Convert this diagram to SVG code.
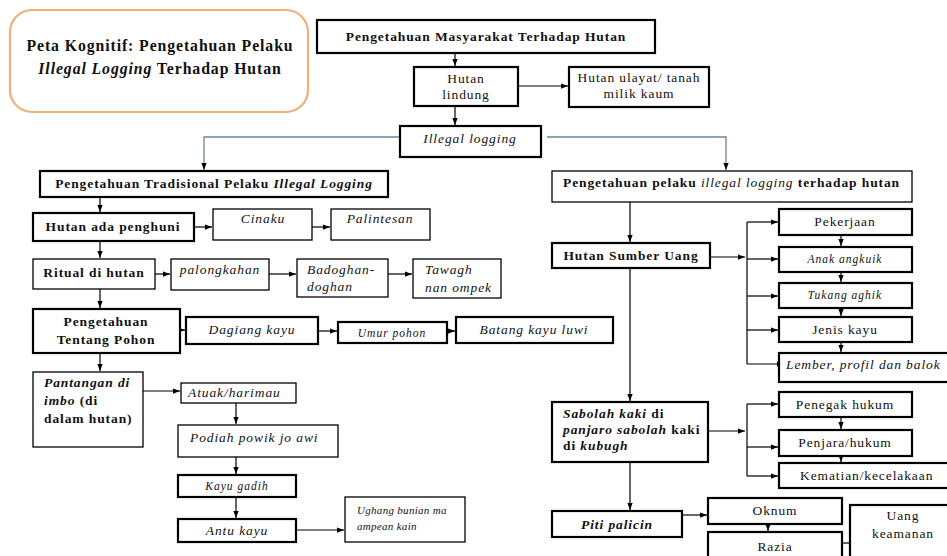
<svg xmlns="http://www.w3.org/2000/svg" width="947" height="556" viewBox="0 0 947 556">
<defs>
<style>
.b{fill:#fff;stroke:#000;stroke-width:2.2}
.t{fill:#fff;stroke:#000;stroke-width:1.3}
text{font-family:"Liberation Serif","Times New Roman",serif;font-size:13.5px;letter-spacing:0.9px;fill:#111}
.bd{font-weight:bold}
.it{font-style:italic}
.sm{font-size:11.5px;letter-spacing:1px}
.xs{font-size:11px;letter-spacing:0.3px}
.m{text-anchor:middle}
.c{stroke:#000;stroke-width:1.2;fill:none}
.g{stroke:#6a8596;stroke-width:1.3;fill:none}
</style>
<marker id="a" viewBox="0 0 8 8" refX="8" refY="4" markerWidth="7" markerHeight="7" markerUnits="userSpaceOnUse" orient="auto"><path d="M0,1 L8,4 L0,7 z" fill="#000"/></marker>
</defs>
<rect width="947" height="556" fill="#fff"/>

<g id="connectors">
<path class="c" d="M455,53 V66" marker-end="url(#a)"/>
<path class="c" d="M518,86 H568" marker-end="url(#a)"/>
<path class="c" d="M455,106 V125" marker-end="url(#a)"/>
<path class="g" d="M400,137 H204 V170" marker-end="url(#a)"/>
<path class="g" d="M547,137 H726 V170" marker-end="url(#a)"/>
<path class="c" d="M100,197 V212" marker-end="url(#a)"/>
<path class="c" d="M194,227 H212" marker-end="url(#a)"/>
<path class="c" d="M312,227 H330" marker-end="url(#a)"/>
<path class="c" d="M100,241 V258" marker-end="url(#a)"/>
<path class="c" d="M155,274 H170" marker-end="url(#a)"/>
<path class="c" d="M269,274 H296" marker-end="url(#a)"/>
<path class="c" d="M388,274 H412" marker-end="url(#a)"/>
<path class="c" d="M100,289 V308" marker-end="url(#a)"/>
<path class="c" d="M180,330 H185" marker-end="url(#a)"/>
<path class="c" d="M318,331 H337" marker-end="url(#a)"/>
<path class="c" d="M447,331 H455" marker-end="url(#a)"/>
<path class="c" d="M100,353 V371" marker-end="url(#a)"/>
<path class="c" d="M143,391 H180" marker-end="url(#a)"/>
<path class="c" d="M236,403 V424" marker-end="url(#a)"/>
<path class="c" d="M236,457 V474" marker-end="url(#a)"/>
<path class="c" d="M236,497 V518" marker-end="url(#a)"/>
<path class="c" d="M296,530 H344" marker-end="url(#a)"/>
<path class="c" d="M630,202 V242" marker-end="url(#a)"/>
<path class="c" d="M710,257 H745" marker-end="url(#a)"/>
<path class="c" d="M747,222 V364"/>
<path class="c" d="M747,222 H778" marker-end="url(#a)"/>
<path class="c" d="M747,259 H778" marker-end="url(#a)"/>
<path class="c" d="M747,296 H778" marker-end="url(#a)"/>
<path class="c" d="M747,330 H778" marker-end="url(#a)"/>
<path class="c" d="M747,364 H784" marker-end="url(#a)"/>
<path class="c" d="M841,235 V246" marker-end="url(#a)"/>
<path class="c" d="M841,272 V282" marker-end="url(#a)"/>
<path class="c" d="M841,308 V316" marker-end="url(#a)"/>
<path class="c" d="M841,342 V352" marker-end="url(#a)"/>
<path class="c" d="M630,268 V401" marker-end="url(#a)"/>
<path class="c" d="M708,431 H745" marker-end="url(#a)"/>
<path class="c" d="M747,404 V476"/>
<path class="c" d="M747,404 H778" marker-end="url(#a)"/>
<path class="c" d="M747,447 H778" marker-end="url(#a)"/>
<path class="c" d="M747,476 H778" marker-end="url(#a)"/>
<path class="c" d="M841,417 V429" marker-end="url(#a)"/>
<path class="c" d="M841,456 V462" marker-end="url(#a)"/>
<path class="c" d="M630,462 V510" marker-end="url(#a)"/>
<path class="c" d="M682,515 H707" marker-end="url(#a)"/>
<path class="c" d="M768,524 V531" marker-end="url(#a)"/>
<path class="c" d="M842,543 H859" marker-end="url(#a)"/>
</g>

<g id="title">
<rect x="10" y="10" width="298" height="102" rx="22" fill="#fff" stroke="#efb07a" stroke-width="2.2"/>
<text class="bd m" x="160" y="51" style="font-size:15.8px;letter-spacing:0.9px">Peta Kognitif: Pengetahuan Pelaku</text>
<text class="bd m" x="160" y="74" style="font-size:15.8px;letter-spacing:0.9px"><tspan class="it">Illegal Logging</tspan> Terhadap Hutan</text>
</g>

<g id="n_masyarakat"><rect class="b" x="317" y="20" width="338" height="33"/><text class="bd m" x="486" y="41">Pengetahuan Masyarakat Terhadap Hutan</text></g>
<g id="n_lindung"><rect class="b" x="414" y="67" width="104" height="39"/><text class="m" x="466" y="83">Hutan</text><text class="m" x="466" y="99">lindung</text></g>
<g id="n_ulayat"><rect class="b" x="569" y="67" width="140" height="40"/><text class="m" x="639" y="82">Hutan ulayat/ tanah</text><text class="m" x="639" y="98">milik kaum</text></g>
<g id="n_illegal"><rect class="b" x="400" y="126" width="141" height="31"/><text class="it m" x="470" y="143">Illegal logging</text></g>
<g id="n_tradisional"><rect class="b" x="40" y="171" width="348" height="26"/><text class="bd m" x="214" y="188">Pengetahuan Tradisional Pelaku <tspan class="it">Illegal  Logging</tspan></text></g>
<g id="n_pelaku"><rect class="t" x="552" y="171" width="360" height="31"/><text class="bd" x="563" y="187">Pengetahuan pelaku <tspan class="it" font-weight="normal">illegal logging</tspan> terhadap hutan</text></g>

<g id="n_penghuni"><rect class="b" x="33" y="213" width="161" height="28"/><text class="bd m" x="113" y="231">Hutan ada penghuni</text></g>
<g id="n_cinaku"><rect class="t" x="213" y="209" width="99" height="31"/><text class="it m" x="263" y="223">Cinaku</text></g>
<g id="n_palintesan"><rect class="t" x="331" y="209" width="99" height="31"/><text class="it m" x="380" y="223">Palintesan</text></g>
<g id="n_ritual"><rect class="t" x="33" y="259" width="122" height="30"/><text class="bd m" x="94" y="277">Ritual di hutan</text></g>
<g id="n_palongkahan"><rect class="t" x="171" y="259" width="98" height="31"/><text class="it m" x="220" y="274">palongkahan</text></g>
<g id="n_badoghan"><rect class="t" x="297" y="259" width="91" height="38"/><text class="it" x="307" y="274">Badoghan-</text><text class="it" x="307" y="291">doghan</text></g>
<g id="n_tawagh"><rect class="t" x="413" y="259" width="88" height="39"/><text class="it" x="425" y="274">Tawagh</text><text class="it" x="425" y="292">nan ompek</text></g>
<g id="n_pohon"><rect class="b" x="33" y="309" width="147" height="44"/><text class="bd m" x="106" y="326">Pengetahuan</text><text class="bd m" x="106" y="344">Tentang Pohon</text></g>
<g id="n_dagiang"><rect class="b" x="186" y="317" width="132" height="27"/><text class="it m" x="252" y="334">Dagiang kayu</text></g>
<g id="n_umur"><rect class="b" x="338" y="322" width="109" height="21"/><text class="it sm m" x="392" y="337">Umur pohon</text></g>
<g id="n_batang"><rect class="b" x="456" y="317" width="157" height="26"/><text class="it m" x="534" y="334">Batang kayu luwi</text></g>
<g id="n_pantangan"><rect class="t" x="33" y="372" width="110" height="75"/><text class="bd" x="44" y="387"><tspan class="it">Pantangan di</tspan></text><text class="bd" x="44" y="405"><tspan class="it">imbo</tspan> (di</text><text class="bd" x="44" y="423">dalam hutan)</text></g>
<g id="n_atuak"><rect class="t" x="181" y="383" width="115" height="20"/><text class="it" x="188" y="397">Atuak/harimau</text></g>
<g id="n_podiah"><rect class="t" x="178" y="425" width="160" height="32"/><text class="it" x="190" y="442">Podiah powik jo awi</text></g>
<g id="n_kayugadih"><rect class="b" x="178" y="475" width="118" height="22"/><text class="it sm m" x="237" y="490">Kayu gadih</text></g>
<g id="n_antu"><rect class="b" x="178" y="519" width="118" height="23"/><text class="it m" x="237" y="535">Antu kayu</text></g>
<g id="n_ughang"><rect class="t" x="345" y="497" width="120" height="45"/><text class="it xs" x="357" y="514">Ughang  bunian ma</text><text class="it xs" x="357" y="530">ampean  kain</text></g>

<g id="n_sumberuang"><rect class="b" x="552" y="243" width="158" height="25"/><text class="bd m" x="631" y="260">Hutan Sumber Uang</text></g>
<g id="n_pekerjaan"><rect class="b" x="779" y="209" width="133" height="26"/><text class="m" x="845" y="226">Pekerjaan</text></g>
<g id="n_anak"><rect class="b" x="779" y="247" width="133" height="25"/><text class="it sm m" x="845" y="263">Anak angkuik</text></g>
<g id="n_tukang"><rect class="b" x="779" y="283" width="133" height="25"/><text class="it sm m" x="845" y="299">Tukang aghik</text></g>
<g id="n_jenis"><rect class="b" x="779" y="317" width="133" height="25"/><text class="m" x="845" y="334">Jenis kayu</text></g>
<g id="n_lember"><rect class="b" x="779" y="353" width="175" height="29"/><text class="it" x="786" y="369">Lember, profil dan balok</text></g>
<g id="n_sabolah"><rect class="b" x="552" y="402" width="156" height="60"/><text class="bd" x="563" y="418"><tspan class="it">Sabolah kaki</tspan> di</text><text class="bd" x="563" y="434"><tspan class="it">panjaro sabolah</tspan> kaki</text><text class="bd" x="563" y="450">di <tspan class="it">kubugh</tspan></text></g>
<g id="n_penegak"><rect class="b" x="779" y="392" width="133" height="25"/><text class="m" x="845" y="409">Penegak hukum</text></g>
<g id="n_penjara"><rect class="b" x="779" y="430" width="133" height="26"/><text class="m" x="845" y="447">Penjara/hukum</text></g>
<g id="n_kematian"><rect class="b" x="779" y="463" width="175" height="25"/><text x="800" y="480">Kematian/kecelakaan</text></g>
<g id="n_piti"><rect class="b" x="552" y="511" width="130" height="26"/><text class="bd it m" x="617" y="529">Piti palicin</text></g>
<g id="n_oknum"><rect class="b" x="708" y="498" width="134" height="26"/><text class="m" x="775" y="515">Oknum</text></g>
<g id="n_razia"><rect class="b" x="708" y="532" width="134" height="30"/><text class="m" x="775" y="551">Razia</text></g>
<g id="n_keamanan"><rect class="b" x="850" y="505" width="110" height="60"/><text class="m" x="903" y="520">Uang</text><text class="m" x="903" y="538">keamanan</text></g>
</svg>
